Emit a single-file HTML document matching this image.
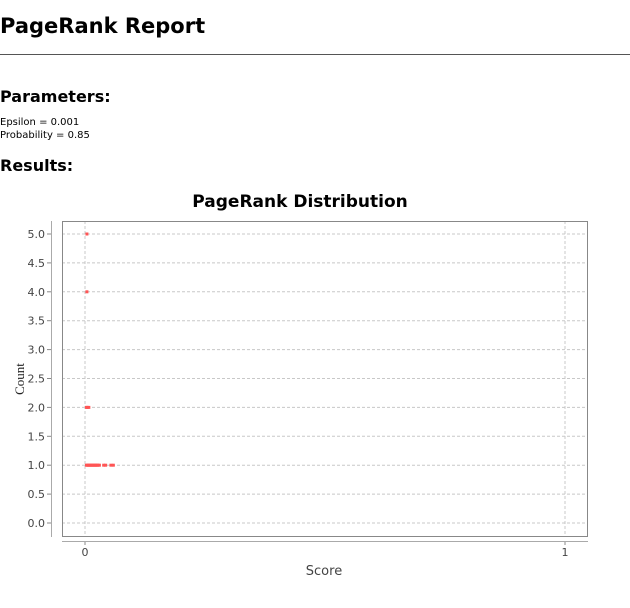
<!DOCTYPE html>
<html><head><meta charset="utf-8"><style>
body{margin:0;background:#fff;width:630px;height:608px;overflow:hidden;font-family:"DejaVu Sans","Liberation Sans",sans-serif;}
h1{position:absolute;left:0;top:14px;margin:0;font-size:21px;font-weight:bold;}
hr{position:absolute;left:0;top:54px;width:630px;margin:0;border:0;border-top:1px solid #555;}
h2{position:absolute;left:0;margin:0;font-size:16px;font-weight:bold;}
.p{position:absolute;left:0;font-size:10px;}
</style></head><body>
<h1>PageRank Report</h1>
<hr>
<h2 style="top:87px">Parameters:</h2>
<div class="p" style="top:117px">Epsilon = 0.001</div>
<div class="p" style="top:130px">Probability = 0.85</div>
<h2 style="top:156px">Results:</h2>
<svg id="chart" width="630" height="608" style="position:absolute;left:0;top:0" font-family="DejaVu Sans, Liberation Sans, sans-serif"></svg>
<script>
const yTicks=[0,0.5,1,1.5,2,2.5,3,3.5,4,4.5,5];
const yTickLabels=["0.0","0.5","1.0","1.5","2.0","2.5","3.0","3.5","4.0","4.5","5.0"];
const xTicks=[0,1];
const xTickLabels=["0","1"];
const scores=[0.004,0.004,0.003,0.005,0.008,0.003,0.005,0.007,0.009,0.011,0.013,0.015,0.017,0.019,0.021,0.023,0.025,0.027,0.030,0.039,0.043,0.054,0.059];
const counts=[5,4,2,2,2,1,1,1,1,1,1,1,1,1,1,1,1,1,1,1,1,1,1];
const svg=document.getElementById('chart');
const NS='http://www.w3.org/2000/svg';
const L=62,R=588,T=221,B=537;
const xs=v=>85+v*480, ys=v=>523-v*57.8;
function mk(t,a){const e=document.createElementNS(NS,t);for(const k in a)e.setAttribute(k,a[k]);svg.appendChild(e);return e;}
let t=mk('text',{x:300,y:207,'text-anchor':'middle','font-size':17,'font-weight':'bold',fill:'#000'});t.textContent='PageRank Distribution';


let bg=mk('rect',{x:L,y:T,width:R-L,height:B-T,fill:'#fff',stroke:'none'});


yTicks.forEach((v,i)=>{
 let g=mk('line',{x1:L,x2:R,y1:ys(v),y2:ys(v),stroke:'#c8c8c8','stroke-dasharray':'3,2','stroke-width':1});
 
 
 let tk=mk('line',{x1:47,x2:51,y1:ys(v),y2:ys(v),stroke:'#888'});
 
 
 let l=mk('text',{x:45,y:ys(v)+4,'text-anchor':'end','font-size':11,fill:'#444'});l.textContent=yTickLabels[i];
 
 
});
xTicks.forEach((v,i)=>{
 let g=mk('line',{x1:xs(v),x2:xs(v),y1:T,y2:B,stroke:'#c8c8c8','stroke-dasharray':'3,2','stroke-width':1});
 
 
 let tk=mk('line',{x1:xs(v),x2:xs(v),y1:541,y2:545,stroke:'#888'});
 
 
 let l=mk('text',{x:xs(v),y:556,'text-anchor':'middle','font-size':11,fill:'#444'});l.textContent=xTickLabels[i];
 
 
});
let br=mk('rect',{x:L+0.5,y:T+0.5,width:R-L-1,height:B-T-1,fill:'none',stroke:'#888'});


let ya=mk('line',{x1:51.5,x2:51.5,y1:T,y2:B,stroke:'#aaa'});


let xa=mk('line',{x1:L,x2:R,y1:541.5,y2:541.5,stroke:'#aaa'});


scores.forEach((s,i)=>{
 let p=mk('rect',{x:xs(s)-1.5,y:ys(counts[i])-1.5,width:3,height:3,fill:'#ff5555'});
 
 
});
let xt=mk('text',{x:324,y:575,'text-anchor':'middle','font-size':13,fill:'#444'});xt.textContent='Score';


let yt=mk('text',{x:0,y:0,'text-anchor':'middle','font-size':13,fill:'#222','font-family':'Liberation Serif, serif',transform:'translate(24,379) rotate(-90)'});yt.textContent='Count';


</script>
</body></html>
